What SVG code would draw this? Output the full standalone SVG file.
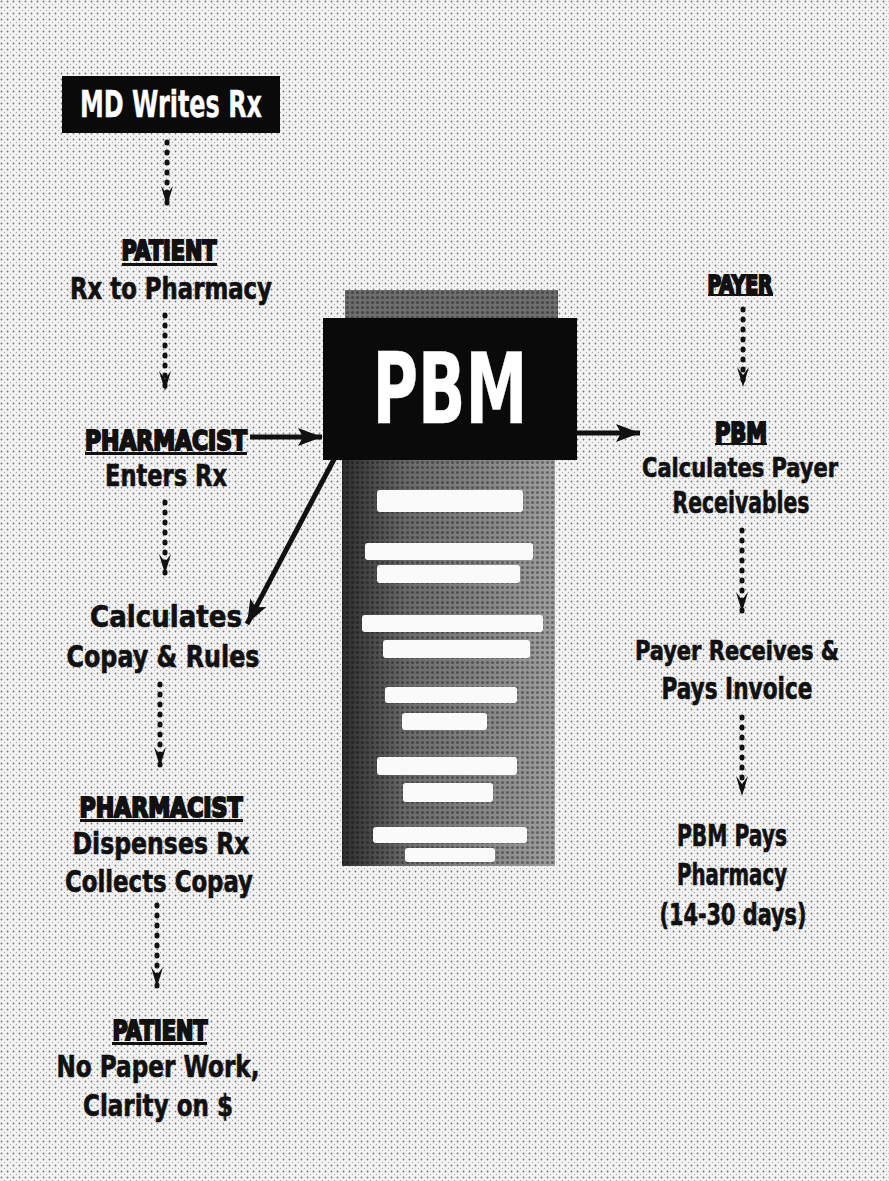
<svg xmlns="http://www.w3.org/2000/svg" width="889" height="1181" viewBox="0 0 889 1181">
<defs>
<style>
.t{font-family:"DejaVu Sans Condensed","Liberation Sans Narrow","Liberation Sans",sans-serif;font-weight:bold;font-size:30px;fill:#111;stroke:#111;stroke-width:0.6;text-anchor:middle}
.h{font-family:"DejaVu Sans Condensed","Liberation Sans Narrow","Liberation Sans",sans-serif;font-weight:bold;font-size:27px;fill:#111;stroke:#111;stroke-width:2;text-anchor:middle}
.w{fill:#fff;stroke:#fff;stroke-width:0.4}
.dot{stroke:#111;stroke-width:5;stroke-linecap:round;stroke-dasharray:1 9;fill:none}
.sol{stroke:#111;stroke-width:5;fill:none}
.bar{fill:#fafafa}
</style>
<pattern id="bg" width="6" height="6" patternUnits="userSpaceOnUse">
<rect width="6" height="6" fill="#f2f2f2"/>
<circle cx="1.5" cy="1.5" r="0.9" fill="#777"/>
<circle cx="4.5" cy="4.5" r="0.6" fill="#999"/>
</pattern>
<pattern id="ht" width="5" height="5" patternUnits="userSpaceOnUse">
<circle cx="2.5" cy="2.5" r="1.6" fill="#000" fill-opacity="0.35"/>
</pattern>
<linearGradient id="panel" x1="0" y1="0" x2="1" y2="0">
<stop offset="0" stop-color="#2e2e2e"/>
<stop offset="0.3" stop-color="#6a6a6a"/>
<stop offset="1" stop-color="#a0a0a0"/>
</linearGradient>
<marker id="ah" viewBox="0 0 20 12" refX="20" refY="6" markerWidth="20" markerHeight="12" markerUnits="userSpaceOnUse" orient="auto">
<path d="M0,0 L8,6 L0,12 L20,6 Z" fill="#111"/>
</marker>
<marker id="sa" viewBox="0 0 24 18" refX="24" refY="9" markerWidth="24" markerHeight="18" markerUnits="userSpaceOnUse" orient="auto">
<path d="M0,0 L24,9 L0,18 L5,9 Z" fill="#111"/>
</marker>
</defs>
<rect width="889" height="1181" fill="url(#bg)"/>

<g id="connectors">
<line class="dot" x1="167" y1="142" x2="167" y2="206" marker-end="url(#ah)"/>
<line class="dot" x1="165" y1="315" x2="165" y2="391" marker-end="url(#ah)"/>
<line class="dot" x1="165" y1="502" x2="165" y2="574" marker-end="url(#ah)"/>
<line class="dot" x1="160" y1="684" x2="160" y2="767" marker-end="url(#ah)"/>
<line class="dot" x1="157" y1="905" x2="157" y2="987" marker-end="url(#ah)"/>
<line class="dot" x1="743" y1="309" x2="743" y2="387" marker-end="url(#ah)"/>
<line class="dot" x1="742" y1="530" x2="742" y2="612" marker-end="url(#ah)"/>
<line class="dot" x1="742" y1="717" x2="742" y2="796" marker-end="url(#ah)"/>
<line class="sol" x1="250" y1="437" x2="322" y2="437" marker-end="url(#sa)"/>
<line class="sol" x1="577" y1="433" x2="640" y2="433" marker-end="url(#sa)"/>
<line class="sol" x1="340" y1="448" x2="247" y2="624" marker-end="url(#sa)"/>
</g>

<g id="md">
<rect x="62" y="76" width="218" height="57" fill="#0a0a0a"/>
<text class="t w" x="171" y="117" style="font-size:38px" textLength="182" lengthAdjust="spacingAndGlyphs">MD Writes Rx</text>
</g>

<g id="patient1">
<text class="h" x="169" y="260" textLength="95" lengthAdjust="spacingAndGlyphs">PATIENT</text>
<rect x="122" y="263" width="95" height="3" fill="#111"/>
<text class="t" x="171" y="299" textLength="202" lengthAdjust="spacingAndGlyphs">Rx to Pharmacy</text>
</g>

<g id="pharmacist1">
<text class="h" x="166" y="450" textLength="162" lengthAdjust="spacingAndGlyphs">PHARMACIST</text>
<rect x="85" y="452" width="162" height="3" fill="#111"/>
<text class="t" x="166" y="486" textLength="122" lengthAdjust="spacingAndGlyphs">Enters Rx</text>
</g>

<g id="calc">
<text class="t" x="166" y="627" style="font-size:31px" textLength="152" lengthAdjust="spacingAndGlyphs">Calculates</text>
<text class="t" x="163" y="667" textLength="193" lengthAdjust="spacingAndGlyphs">Copay &amp; Rules</text>
</g>

<g id="pharmacist2">
<text class="h" x="161" y="817" textLength="163" lengthAdjust="spacingAndGlyphs">PHARMACIST</text>
<rect x="80" y="819" width="163" height="3" fill="#111"/>
<text class="t" x="161" y="854" textLength="177" lengthAdjust="spacingAndGlyphs">Dispenses Rx</text>
<text class="t" x="159" y="892" textLength="188" lengthAdjust="spacingAndGlyphs">Collects Copay</text>
</g>

<g id="patient2">
<text class="h" x="160" y="1040" textLength="95" lengthAdjust="spacingAndGlyphs">PATIENT</text>
<rect x="112" y="1042" width="95" height="3" fill="#111"/>
<text class="t" x="158" y="1077" textLength="203" lengthAdjust="spacingAndGlyphs">No Paper Work,</text>
<text class="t" x="158" y="1116" textLength="150" lengthAdjust="spacingAndGlyphs">Clarity on $</text>
</g>

<g id="pbm">
<rect x="345" y="290" width="213" height="30" fill="#6e6e6e"/>
<rect x="345" y="290" width="213" height="30" fill="url(#ht)"/>
<rect x="342" y="460" width="213" height="406" fill="url(#panel)"/>
<rect x="342" y="460" width="213" height="406" fill="url(#ht)"/>
<rect x="323" y="318" width="254" height="142" fill="#0a0a0a"/>
<text class="t w" x="450" y="423" style="font-size:98px" textLength="155" lengthAdjust="spacingAndGlyphs">PBM</text>
<rect class="bar" x="377" y="490" width="146" height="22" rx="3"/>
<rect class="bar" x="365" y="543" width="168" height="17" rx="3"/>
<rect class="bar" x="377" y="565" width="143" height="18" rx="3"/>
<rect class="bar" x="362" y="615" width="181" height="17" rx="3"/>
<rect class="bar" x="383" y="640" width="147" height="18" rx="3"/>
<rect class="bar" x="385" y="687" width="132" height="16" rx="3"/>
<rect class="bar" x="402" y="713" width="85" height="17" rx="3"/>
<rect class="bar" x="377" y="757" width="140" height="18" rx="3"/>
<rect class="bar" x="403" y="783" width="90" height="19" rx="3"/>
<rect class="bar" x="373" y="827" width="154" height="16" rx="3"/>
<rect class="bar" x="405" y="848" width="90" height="14" rx="3"/>
</g>

<g id="payer">
<text class="h" x="740" y="293" style="font-size:25px" textLength="65" lengthAdjust="spacingAndGlyphs">PAYER</text>
<rect x="708" y="294" width="65" height="2" fill="#111"/>
</g>

<g id="pbm-calc">
<text class="h" x="741" y="442" textLength="52" lengthAdjust="spacingAndGlyphs">PBM</text>
<rect x="715" y="443" width="52" height="2" fill="#111"/>
<text class="t" x="740" y="477" style="font-size:27px" textLength="196" lengthAdjust="spacingAndGlyphs">Calculates Payer</text>
<text class="t" x="741" y="513" textLength="137" lengthAdjust="spacingAndGlyphs">Receivables</text>
</g>

<g id="payer-pays">
<text class="t" x="737" y="660" style="font-size:27px" textLength="204" lengthAdjust="spacingAndGlyphs">Payer Receives &amp;</text>
<text class="t" x="737" y="699" textLength="151" lengthAdjust="spacingAndGlyphs">Pays Invoice</text>
</g>

<g id="pbm-pays">
<text class="t" x="732" y="846" textLength="110" lengthAdjust="spacingAndGlyphs">PBM Pays</text>
<text class="t" x="732" y="885" textLength="110" lengthAdjust="spacingAndGlyphs">Pharmacy</text>
<text class="t" x="733" y="925" textLength="147" lengthAdjust="spacingAndGlyphs">(14-30 days)</text>
</g>
</svg>
